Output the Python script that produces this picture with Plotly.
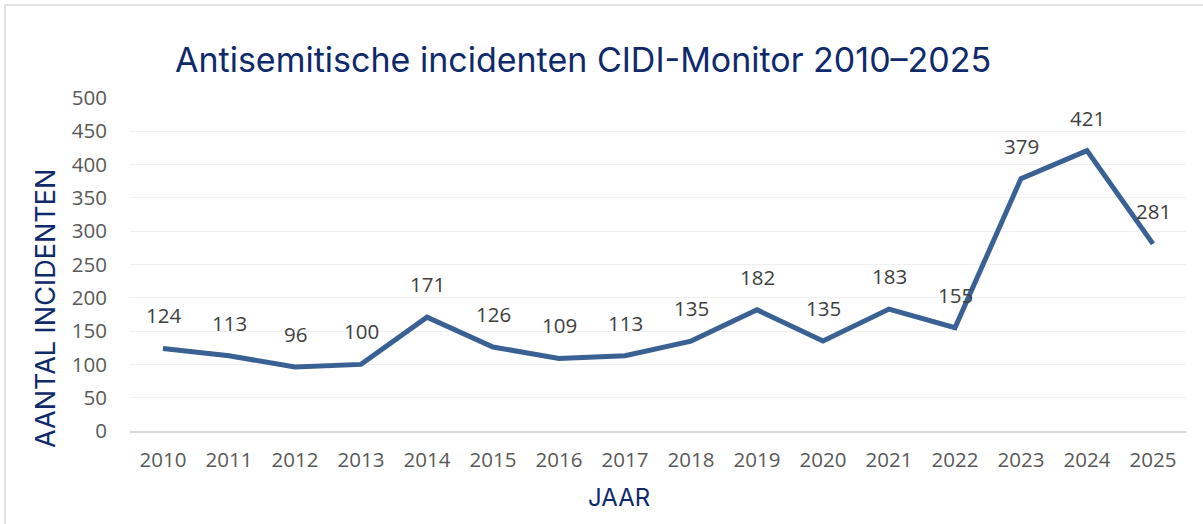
import plotly.graph_objects as go

years = [str(y) for y in range(2010, 2026)]
incidents = [124, 113, 96, 100, 171, 126, 109, 113, 135, 182, 135, 183, 155, 379, 421, 281]
y_ticks = [0, 50, 100, 150, 200, 250, 300, 350, 400, 450, 500]

W, H = 1203, 524
L, R, T, B = 130, 17, 98, 93
pw, ph = W - L - R, H - T - B

def px_x(p):
    return (p - L) / pw

def px_y(p):
    return (H - B - p) / ph

NAVY = "#0F2A6B"
TICKFONT = "Open Sans, Liberation Sans, Arial"

fig = go.Figure()
fig.add_trace(go.Scatter(
    x=years, y=incidents, mode="lines",
    line=dict(color="#3A6193", width=5),
    hoverinfo="x+y", showlegend=False,
))

for i, v in enumerate(incidents):
    fig.add_annotation(x=i, y=v, text=str(v), showarrow=False, yshift=33,
                       font=dict(family=TICKFONT, size=20.5, color="#404040"))

fig.add_annotation(xref="paper", yref="paper", x=px_x(583), y=px_y(60),
                   text="Antisemitische incidenten CIDI-Monitor 2010–2025",
                   showarrow=False, xanchor="center", yanchor="middle",
                   font=dict(family="Inter, Noto Sans, sans-serif", size=34, color=NAVY))

# axis titles
fig.add_annotation(xref="paper", yref="paper", x=px_x(45), y=px_y(309),
                   text="AANTAL INCIDENTEN", textangle=-90, showarrow=False,
                   xanchor="center", yanchor="middle",
                   font=dict(family="Inter, Noto Sans, sans-serif", size=27, color=NAVY))
fig.add_annotation(xref="paper", yref="paper", x=px_x(619), y=px_y(497),
                   text="JAAR", showarrow=False,
                   xanchor="center", yanchor="middle",
                   font=dict(family="Inter, Noto Sans, sans-serif", size=24, color=NAVY))

# outer chart border
fig.add_shape(type="rect", xref="paper", yref="paper",
              x0=px_x(5), x1=px_x(1210), y0=px_y(530), y1=px_y(5),
              line=dict(color="#D9D9D9", width=1.5), layer="below")

fig.update_layout(
    width=W, height=H,
    margin=dict(l=L, r=R, t=T, b=B),
    paper_bgcolor="white", plot_bgcolor="white",
    font=dict(family=TICKFONT, color="#595959"),
    xaxis=dict(
        type="category", range=[-0.5, 15.5], showgrid=False, showline=True,
        linecolor="#D9D9D9", linewidth=1.5,
        ticks="", ticklabelstandoff=10, tickfont=dict(size=20.5, color="#595959"),
        zeroline=False,
    ),
    yaxis=dict(
        range=[0, 500], tickvals=y_ticks, showgrid=True, gridcolor="#F0F0F0", gridwidth=1,
        zeroline=False, showline=False, ticks="", ticklabelstandoff=22,
        tickfont=dict(size=20.5, color="#595959"),
    ),
)

fig.write_html("out.html", config={"displayModeBar": False},
               post_script="document.body.style.margin='0';")
